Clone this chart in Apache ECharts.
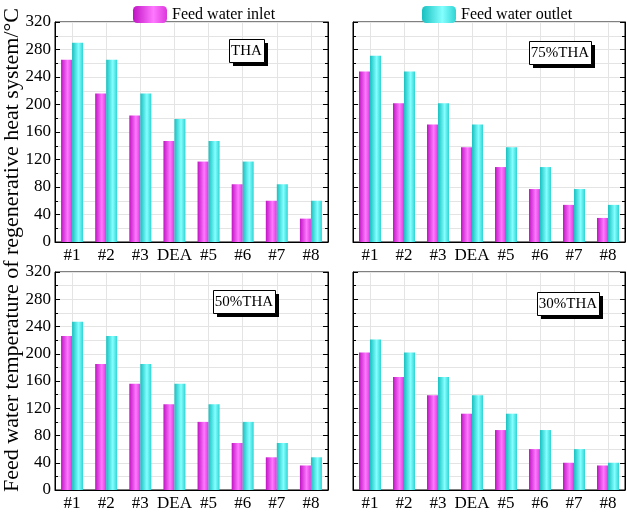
<!DOCTYPE html>
<html>
<head>
<meta charset="utf-8">
<script src="https://cdn.jsdelivr.net/npm/echarts@6/dist/echarts.min.js"></script>
<style>
html, body { margin: 0; padding: 0; background: #fff; }
#feedWaterTemp { width: 627px; height: 512px; }
</style>
</head>
<body>
<div id="feedWaterTemp"></div>
<script>
// heaters
const categories = ['#1', '#2', '#3', 'DEA', '#5', '#6', '#7', '#8']
const yTicks = [0, 40, 80, 120, 160, 200, 240, 280, 320]
const loadCases = ['THA', '75%THA', '50%THA', '30%THA']
const seriesNames = ['Feed water inlet', 'Feed water outlet']

// feed water temperature, °C
const inletTHA = [265, 216, 184, 147, 117, 84, 60, 34]
const outletTHA = [290, 265, 216, 179, 147, 117, 84, 60]
const inlet75 = [248, 202, 171, 138, 109, 77, 54, 35]
const outlet75 = [271, 248, 202, 171, 138, 109, 77, 54]
const inlet50 = [226, 185, 156, 126, 100, 69, 48, 36]
const outlet50 = [247, 226, 185, 156, 126, 100, 69, 48]
const inlet30 = [202, 166, 139, 112, 88, 60, 40, 36]
const outlet30 = [221, 202, 166, 139, 112, 88, 60, 40]

const inletData = [inletTHA, inlet75, inlet50, inlet30]
const outletData = [outletTHA, outlet75, outlet50, outlet30]

const font = 'Liberation Serif'
const gridPos = [
    { left: 55, top: 22, width: 273, height: 220 },
    { left: 353, top: 22, width: 272, height: 220 },
    { left: 55, top: 272, width: 273, height: 220 },
    { left: 353, top: 272, width: 272, height: 220 }
]
// label box positions (left, top) per panel
const boxPos = [[229, 39], [529, 41], [213, 290], [537, 292]]

function grad(c0, c1, c2) {
    return new echarts.graphic.LinearGradient(0, 0, 1, 0, [
        { offset: 0, color: c0 },
        { offset: 0.6, color: c1 },
        { offset: 1, color: c2 }
    ])
}
const inletColor = grad('#c014c4', '#ff78ff', '#dc38dc')
const outletColor = grad('#18c0c0', '#84ffff', '#30d4d4')

function drawChart() {
    let chart = echarts.init(document.getElementById('feedWaterTemp'))
    let grids = [], xAxes = [], yAxes = [], series = [], graphic = []

    gridPos.forEach((g, i) => {
        grids.push(Object.assign({ show: true, borderColor: '#000', borderWidth: 1, backgroundColor: 'transparent' }, g))
        xAxes.push({
            type: 'category',
            gridIndex: i,
            data: categories,
            axisLine: { lineStyle: { color: '#000', width: 1 } },
            axisTick: { inside: true, length: 4, lineStyle: { color: '#000' } },
            axisLabel: { color: '#000', fontFamily: font, fontSize: 17, margin: 5, interval: 0 },
            splitLine: { show: true, alignWithLabel: true, lineStyle: { color: '#e4e4e4', width: 1 } }
        })
        let left = i % 2 === 0
        yAxes.push({
            type: 'value',
            gridIndex: i,
            min: yTicks[0],
            max: yTicks[yTicks.length - 1],
            interval: yTicks[1] - yTicks[0],
            axisLine: { show: true, lineStyle: { color: '#000', width: 1 } },
            axisTick: { show: true, inside: true, length: 5, lineStyle: { color: '#000' } },
            minorTick: { show: true, splitNumber: 2, length: 3, lineStyle: { color: '#000' } },
            axisLabel: { show: left, color: '#000', fontFamily: font, fontSize: 17, margin: 4 },
            splitLine: { show: true, lineStyle: { color: '#e4e4e4', width: 1 } },
            minorSplitLine: { show: true, lineStyle: { color: '#e4e4e4', width: 1 } }
        })
        // mirrored ticks on the right border
        yAxes.push({
            type: 'value',
            gridIndex: i,
            position: 'right',
            min: yTicks[0],
            max: yTicks[yTicks.length - 1],
            interval: yTicks[1] - yTicks[0],
            axisLine: { show: true, lineStyle: { color: '#000', width: 1 } },
            axisTick: { show: true, inside: true, length: 5, lineStyle: { color: '#000' } },
            minorTick: { show: true, splitNumber: 2, length: 3, lineStyle: { color: '#000' } },
            axisLabel: { show: false },
            splitLine: { show: false }
        })
        series.push({
            name: seriesNames[0],
            type: 'bar',
            xAxisIndex: i,
            yAxisIndex: i * 2,
            barWidth: 11,
            barGap: '0%',
            itemStyle: { color: inletColor },
            data: inletData[i]
        })
        series.push({
            name: seriesNames[1],
            type: 'bar',
            xAxisIndex: i,
            yAxisIndex: i * 2,
            barWidth: 11,
            barGap: '0%',
            itemStyle: { color: outletColor },
            data: outletData[i]
        })

        // load case label box with hard shadow
        let w = loadCases[i].length > 3 ? 62 : 35
        let h = 23
        let bx = boxPos[i][0], by = boxPos[i][1]
        graphic.push({ type: 'rect', z: 100, shape: { x: bx + 4, y: by + 4, width: w, height: h }, style: { fill: '#000' } })
        graphic.push({ type: 'rect', z: 101, shape: { x: bx + 0.5, y: by + 0.5, width: w, height: h }, style: { fill: '#fff', stroke: '#000', lineWidth: 1 } })
        graphic.push({
            type: 'text',
            z: 102,
            x: bx + w / 2,
            y: by + h / 2 + 1,
            style: { text: loadCases[i], fill: '#000', font: '15px "' + font + '"', align: 'center', verticalAlign: 'middle' }
        })
    })

    graphic.push({
        type: 'text',
        x: 12,
        y: 250,
        rotation: Math.PI / 2,
        style: {
            text: 'Feed water temperature of regenerative heat system/°C',
            fill: '#000',
            font: '22px "' + font + '"',
            align: 'center',
            verticalAlign: 'middle'
        }
    })

    let option = {
        animation: false,
        legend: [
            {
                data: [seriesNames[0]],
                left: 128,
                top: 1,
                itemWidth: 34,
                itemHeight: 17,
                textStyle: { color: '#000', fontFamily: font, fontSize: 16 }
            },
            {
                data: [seriesNames[1]],
                left: 417,
                top: 1,
                itemWidth: 34,
                itemHeight: 17,
                textStyle: { color: '#000', fontFamily: font, fontSize: 16 }
            }
        ],
        grid: grids,
        xAxis: xAxes,
        yAxis: yAxes,
        graphic: graphic,
        series: series
    }

    chart.setOption(option)
}

drawChart()
</script>
</body>
</html>
